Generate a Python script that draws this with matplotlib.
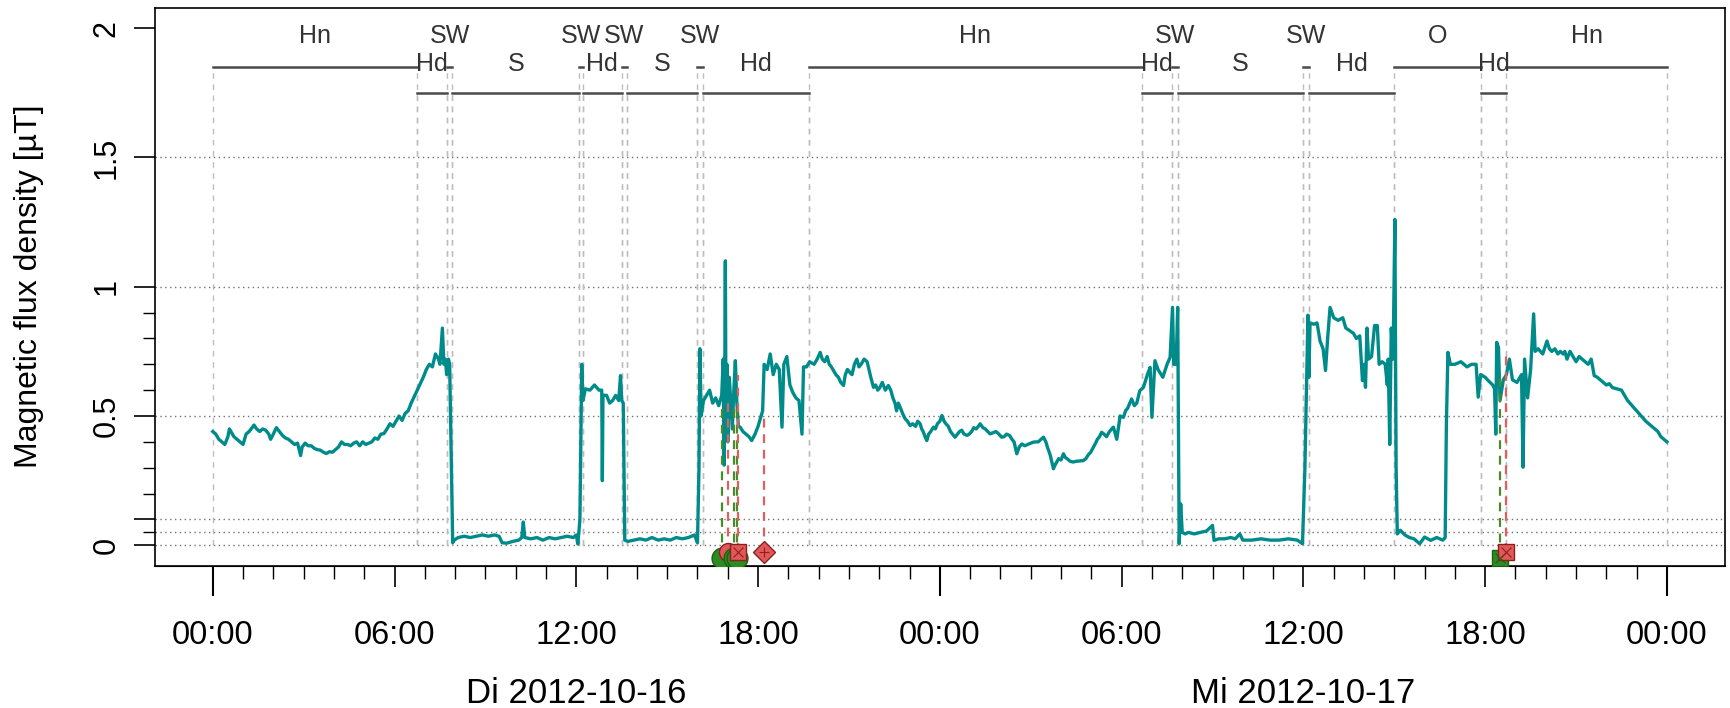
import matplotlib
matplotlib.use('Agg')
import matplotlib.pyplot as plt
import numpy as np

plt.rcParams['font.family'] = ['Liberation Sans', 'DejaVu Sans']

# flux density, hours since 2012-10-16 00:00
hours_day1 = [0.00, 0.10, 0.20, 0.30, 0.40, 0.50, 0.55, 0.60, 0.70, 0.80,
              0.90, 1.00, 1.10, 1.20, 1.30, 1.36, 1.45, 1.55, 1.65, 1.75,
              1.85, 1.91, 2.00, 2.10, 2.20, 2.30, 2.40, 2.50, 2.60, 2.70,
              2.80, 2.90, 2.95, 3.05, 3.15, 3.25, 3.35, 3.45, 3.55, 3.65,
              3.75, 3.85, 3.95, 4.05, 4.15, 4.25, 4.35, 4.45, 4.55, 4.65,
              4.75, 4.85, 4.95, 5.05, 5.15, 5.25, 5.35, 5.45, 5.55, 5.65,
              5.75, 5.85, 5.95, 6.05, 6.15, 6.25, 6.35, 6.45, 6.55, 6.65,
              6.75, 6.85, 6.95, 7.05, 7.15, 7.25, 7.35, 7.45, 7.50, 7.58,
              7.63, 7.68, 7.72, 7.78, 7.82, 7.88, 7.92, 7.97, 8.10, 8.30,
              8.50, 8.70, 8.90, 9.10, 9.30, 9.45, 9.55, 9.70, 9.90, 10.10,
              10.20, 10.25, 10.30, 10.50, 10.70, 10.90, 11.10, 11.30, 11.50, 11.70,
              11.90, 12.00, 12.05, 12.12, 12.18, 12.22, 12.30, 12.45, 12.60, 12.75,
              12.84, 12.86, 12.88, 13.00, 13.10, 13.20, 13.30, 13.40, 13.46, 13.50,
              13.55, 13.60, 13.70, 13.90, 14.10, 14.30, 14.50, 14.70, 14.90, 15.10,
              15.30, 15.50, 15.70, 15.90, 16.00, 16.05, 16.08, 16.12, 16.20, 16.30,
              16.40, 16.50, 16.60, 16.70, 16.80, 16.85, 16.88, 16.90, 16.92, 16.94,
              16.97, 17.00, 17.05, 17.10, 17.15, 17.20, 17.25, 17.30, 17.35, 17.41,
              17.50, 17.60, 17.70, 17.79, 17.90, 18.00, 18.10, 18.15, 18.20, 18.30,
              18.40, 18.50, 18.60, 18.70, 18.79, 18.85, 18.95, 19.05, 19.15, 19.25,
              19.35, 19.45, 19.50, 19.60, 19.70, 19.85, 19.95, 20.05, 20.12, 20.20,
              20.28, 20.35, 20.42, 20.49, 20.57, 20.65, 20.73, 20.82, 20.88, 20.95,
              21.02, 21.10, 21.18, 21.26, 21.33, 21.40, 21.50, 21.60, 21.66, 21.72,
              21.81, 21.88, 21.95, 22.02, 22.10, 22.20, 22.30, 22.38, 22.45, 22.52,
              22.57, 22.63, 22.69, 22.77, 22.85, 22.93, 23.02, 23.10, 23.20, 23.27,
              23.35, 23.40, 23.45, 23.51, 23.57, 23.63, 23.70, 23.79, 23.85, 23.92]
flux_day1 = [0.44, 0.43, 0.41, 0.40, 0.39, 0.42, 0.45, 0.44, 0.42, 0.41,
             0.40, 0.39, 0.43, 0.44, 0.455, 0.465, 0.45, 0.44, 0.45, 0.445,
             0.43, 0.41, 0.43, 0.455, 0.44, 0.425, 0.415, 0.41, 0.40, 0.39,
             0.395, 0.347, 0.38, 0.395, 0.385, 0.385, 0.375, 0.37, 0.368, 0.36,
             0.355, 0.362, 0.36, 0.37, 0.38, 0.40, 0.39, 0.39, 0.385, 0.395,
             0.40, 0.385, 0.40, 0.39, 0.395, 0.40, 0.415, 0.41, 0.43, 0.432,
             0.45, 0.47, 0.46, 0.48, 0.50, 0.483, 0.51, 0.52, 0.55, 0.575,
             0.60, 0.625, 0.65, 0.68, 0.70, 0.69, 0.74, 0.72, 0.70, 0.84,
             0.70, 0.72, 0.66, 0.72, 0.70, 0.30, 0.01, 0.02, 0.03, 0.035,
             0.03, 0.035, 0.04, 0.035, 0.04, 0.035, 0.01, 0.008, 0.015, 0.02,
             0.03, 0.09, 0.03, 0.025, 0.03, 0.02, 0.03, 0.025, 0.03, 0.035,
             0.03, 0.04, 0.005, 0.10, 0.70, 0.56, 0.605, 0.60, 0.62, 0.60,
             0.60, 0.25, 0.58, 0.58, 0.55, 0.56, 0.58, 0.56, 0.656, 0.56,
             0.55, 0.02, 0.015, 0.02, 0.025, 0.02, 0.03, 0.02, 0.025, 0.02,
             0.03, 0.025, 0.03, 0.04, 0.01, 0.30, 0.76, 0.50, 0.56, 0.58,
             0.60, 0.55, 0.57, 0.54, 0.58, 0.72, 0.31, 0.65, 1.10, 0.50,
             0.70, 0.40, 0.65, 0.55, 0.45, 0.60, 0.714, 0.55, 0.46, 0.457,
             0.44, 0.43, 0.42, 0.405, 0.43, 0.46, 0.50, 0.52, 0.70, 0.68,
             0.74, 0.66, 0.70, 0.68, 0.457, 0.70, 0.73, 0.62, 0.59, 0.57,
             0.56, 0.43, 0.69, 0.69, 0.71, 0.70, 0.72, 0.746, 0.72, 0.71,
             0.73, 0.70, 0.69, 0.676, 0.66, 0.65, 0.63, 0.618, 0.66, 0.68,
             0.67, 0.66, 0.70, 0.72, 0.69, 0.70, 0.72, 0.71, 0.68, 0.65,
             0.611, 0.62, 0.60, 0.61, 0.63, 0.60, 0.618, 0.60, 0.57, 0.55,
             0.52, 0.55, 0.534, 0.51, 0.49, 0.48, 0.463, 0.47, 0.46, 0.48,
             0.47, 0.45, 0.44, 0.42, 0.405, 0.43, 0.44, 0.457, 0.45, 0.47]

hours_day2 = [24.00, 24.07, 24.14, 24.20, 24.28, 24.35, 24.42, 24.50, 24.58, 24.65,
              24.72, 24.80, 24.90, 24.97, 25.05, 25.12, 25.20, 25.27, 25.33, 25.42,
              25.50, 25.58, 25.66, 25.75, 25.85, 25.95, 26.04, 26.12, 26.20, 26.30,
              26.38, 26.45, 26.54, 26.62, 26.71, 26.80, 26.90, 27.00, 27.09, 27.17,
              27.25, 27.34, 27.42, 27.50, 27.55, 27.64, 27.70, 27.75, 27.80, 27.85,
              27.92, 28.00, 28.08, 28.14, 28.20, 28.30, 28.40, 28.50, 28.62, 28.74,
              28.82, 28.90, 28.98, 29.07, 29.14, 29.20, 29.27, 29.34, 29.42, 29.50,
              29.60, 29.67, 29.73, 29.84, 29.95, 30.06, 30.13, 30.20, 30.27, 30.33,
              30.42, 30.50, 30.60, 30.72, 30.85, 30.94, 31.00, 31.10, 31.20, 31.36,
              31.50, 31.60, 31.68, 31.72, 31.80, 31.85, 31.88, 31.90, 31.95, 32.00,
              32.10, 32.20, 32.40, 32.60, 32.80, 33.00, 33.05, 33.20, 33.40, 33.60,
              33.75, 33.90, 34.00, 34.30, 34.60, 34.90, 35.20, 35.50, 35.80, 35.97,
              36.05, 36.15, 36.18, 36.22, 36.35, 36.45, 36.55, 36.65, 36.73, 36.80,
              36.88, 37.00, 37.15, 37.30, 37.40, 37.53, 37.65, 37.75, 37.86, 37.95,
              38.00, 38.05, 38.10, 38.15, 38.25, 38.35, 38.44, 38.50, 38.60, 38.70,
              38.77, 38.80, 38.85, 38.90, 38.96, 39.02, 39.06, 39.10, 39.20, 39.35,
              39.50, 39.65, 39.84, 40.00, 40.20, 40.40, 40.60, 40.68, 40.72, 40.77,
              40.85, 41.00, 41.20, 41.40, 41.55, 41.70, 41.77, 41.85, 42.00, 42.10,
              42.25, 42.31, 42.35, 42.38, 42.44, 42.49, 42.60, 42.70, 42.80, 42.90,
              43.05, 43.20, 43.25, 43.30, 43.40, 43.50, 43.60, 43.65, 43.75, 43.90,
              44.04, 44.12, 44.20, 44.30, 44.40, 44.48, 44.57, 44.63, 44.70, 44.80,
              44.90, 45.00, 45.10, 45.20, 45.30, 45.40, 45.50, 45.60, 45.70, 45.80,
              45.90, 46.00, 46.10, 46.20, 46.35, 46.50, 46.60, 46.70, 46.85, 47.00,
              47.15, 47.30, 47.45, 47.60, 47.70, 47.80, 47.90, 48.00]
flux_day2 = [0.48, 0.502, 0.48, 0.47, 0.46, 0.44, 0.43, 0.418, 0.43, 0.44,
             0.445, 0.43, 0.425, 0.43, 0.44, 0.455, 0.45, 0.46, 0.47, 0.455,
             0.45, 0.44, 0.431, 0.435, 0.44, 0.43, 0.418, 0.42, 0.43, 0.425,
             0.41, 0.40, 0.354, 0.38, 0.392, 0.385, 0.39, 0.395, 0.399, 0.40,
             0.40, 0.41, 0.418, 0.40, 0.38, 0.35, 0.32, 0.296, 0.31, 0.32,
             0.335, 0.33, 0.354, 0.34, 0.335, 0.325, 0.322, 0.325, 0.326, 0.328,
             0.335, 0.35, 0.36, 0.38, 0.395, 0.41, 0.42, 0.437, 0.43, 0.42,
             0.44, 0.45, 0.457, 0.41, 0.50, 0.495, 0.52, 0.53, 0.55, 0.566,
             0.54, 0.55, 0.598, 0.611, 0.66, 0.688, 0.495, 0.714, 0.68, 0.65,
             0.70, 0.727, 0.92, 0.70, 0.70, 0.92, 0.40, 0.006, 0.16, 0.05,
             0.044, 0.05, 0.044, 0.05, 0.055, 0.077, 0.019, 0.025, 0.025, 0.03,
             0.025, 0.044, 0.02, 0.02, 0.025, 0.02, 0.02, 0.025, 0.02, 0.006,
             0.30, 0.89, 0.65, 0.86, 0.855, 0.86, 0.79, 0.76, 0.676, 0.80,
             0.92, 0.88, 0.87, 0.88, 0.84, 0.83, 0.82, 0.80, 0.81, 0.637,
             0.70, 0.611, 0.84, 0.72, 0.73, 0.85, 0.85, 0.70, 0.71, 0.70,
             0.62, 0.72, 0.39, 0.84, 0.72, 1.26, 0.30, 0.044, 0.058, 0.04,
             0.03, 0.025, 0.006, 0.032, 0.019, 0.03, 0.02, 0.03, 0.47, 0.746,
             0.70, 0.70, 0.71, 0.69, 0.70, 0.70, 0.573, 0.66, 0.65, 0.637,
             0.62, 0.605, 0.43, 0.785, 0.765, 0.56, 0.64, 0.66, 0.72, 0.64,
             0.63, 0.66, 0.302, 0.72, 0.57, 0.68, 0.895, 0.75, 0.76, 0.74,
             0.79, 0.76, 0.75, 0.76, 0.74, 0.75, 0.74, 0.75, 0.72, 0.75,
             0.73, 0.71, 0.73, 0.72, 0.71, 0.70, 0.72, 0.656, 0.65, 0.64,
             0.63, 0.62, 0.625, 0.61, 0.605, 0.60, 0.58, 0.56, 0.54, 0.52,
             0.50, 0.48, 0.465, 0.45, 0.44, 0.42, 0.41, 0.40]

# activity segments: start, end, label (alternating upper/lower row)
seg_start = [0.00, 6.73, 7.74, 7.90, 12.10, 12.22, 13.50, 13.68, 16.00, 16.18,
             19.68, 30.66, 31.67, 31.86, 36.00, 36.17, 39.00, 41.85, 42.70]
seg_end = [6.73, 7.74, 7.90, 12.10, 12.22, 13.50, 13.68, 16.00, 16.18, 19.68,
           30.66, 31.67, 31.86, 36.00, 36.17, 39.00, 41.85, 42.70, 48.00]
seg_label = ['Hn', 'Hd', 'SW', 'S', 'SW', 'Hd', 'SW', 'S', 'SW', 'Hd',
             'Hn', 'Hd', 'SW', 'S', 'SW', 'Hd', 'O', 'Hd', 'Hn']

# events marked below the curve
ev_time = [16.80, 17.00, 17.20, 17.32, 17.35, 18.18, 42.50, 42.68]
ev_top = [0.55, 0.55, 0.55, 0.55, 0.66, 0.515, 0.676, 0.753]
ev_kind = ['g', 'r', 'g', 'g', 'r', 'r', 'g', 'r']
ev_marker = ['o', 'o', 'o', 'o', 's', 'D', 's', 's']

tick_hours = [0, 6, 12, 18, 24, 30, 36, 42, 48]
tick_labels = ['00:00', '06:00', '12:00', '18:00', '00:00', '06:00', '12:00', '18:00', '00:00']
day_centres = [12, 36]
day_labels = ['Di 2012-10-16', 'Mi 2012-10-17']

teal = '#008B8B'
ev_colors = {'g': ('#2E8B22', '#1F5F12', '#4A8A28'), 'r': ('#E25858', '#8B2020', '#E06060')}

fig = plt.figure(figsize=(17.31, 7.08), dpi=100)
ax = fig.add_axes([0.0893, 0.2006, 0.9073, 0.7888])

# reference lines
for y in [0, 0.05, 0.1, 0.5, 1, 1.5]:
    ax.axhline(y, color='#707070', lw=1.0, ls=(0, (1, 2.5)), zorder=1)

# activity bars with labels and boundary markers
row_line = [1.85, 1.75]
row_text = [1.97, 1.86]
for i in range(len(seg_start)):
    r = i % 2
    s, e = seg_start[i], seg_end[i]
    ax.plot([s, e], [row_line[r]] * 2, color='#4a4a4a', lw=1.8, zorder=3)
    ax.vlines([s, e], 0, row_line[r], colors='#bdbdbd', lw=1.0,
              linestyles=(0, (4, 4)), zorder=2)
    ax.text((s + e) / 2, row_text[r], seg_label[i], ha='center', va='center',
            fontsize=18, color='#333333', zorder=4)

hours = hours_day1 + hours_day2
flux = flux_day1 + flux_day2
ax.plot(hours, flux, color=teal, lw=2.4, zorder=5)

for t, top, k, m in zip(ev_time, ev_top, ev_kind, ev_marker):
    face, edge, line = ev_colors[k]
    ybase = -0.05 if k == 'g' else -0.025
    ax.plot([t, t], [ybase, top], color=line, lw=1.6, ls=(0, (4, 3)), zorder=6)
    if m == 'o':
        size = 15 if k == 'g' else 13
    else:
        size = 11
    ax.plot(t, ybase, marker=m, ms=size, mfc=face, mec=edge, mew=1.0, zorder=7)
    if m in ('s', 'D'):
        ax.plot(t, ybase, marker='x' if m == 's' else '+', ms=size * 0.7,
                mec=edge, mew=0.8, zorder=8)

ax.set_xlim(-1.92, 49.92)
ax.set_ylim(-0.08, 2.08)

ax.set_xticks(tick_hours)
ax.set_xticklabels(tick_labels, fontsize=23.5)
ax.set_xticks(np.arange(0, 49, 1), minor=True)
ax.tick_params(axis='x', which='major', length=15, width=1.2, pad=24)
ax.tick_params(axis='x', which='minor', length=9.4, width=1.0)

day = ax.secondary_xaxis('bottom')
day.set_xticks([0, 24, 48])
day.tick_params(length=21.6, width=1.5, labelbottom=False)

for c, lab in zip(day_centres, day_labels):
    ax.text(c, -0.229, lab, transform=ax.get_xaxis_transform(), ha='center',
            va='center', fontsize=25)

ax.set_yticks([0, 0.1, 0.5, 1, 1.5, 2])
ax.set_yticklabels(['0', '', '0.5', '1', '1.5', '2'], fontsize=22,
                   rotation=90, va='center')
ax.set_yticks([0.05, 0.2, 0.3, 0.4, 0.6, 0.7, 0.8, 0.9], minor=True)
ax.tick_params(axis='y', which='major', length=15, width=1.2, pad=8.5)
ax.tick_params(axis='y', which='minor', length=8.6, width=1.0)

ax.set_ylabel('Magnetic flux density [µT]', fontsize=23)
ax.yaxis.set_label_coords(-0.0704, 0.5)

for sp in ax.spines.values():
    sp.set_linewidth(1.2)

fig.savefig('out.png', dpi=100)
